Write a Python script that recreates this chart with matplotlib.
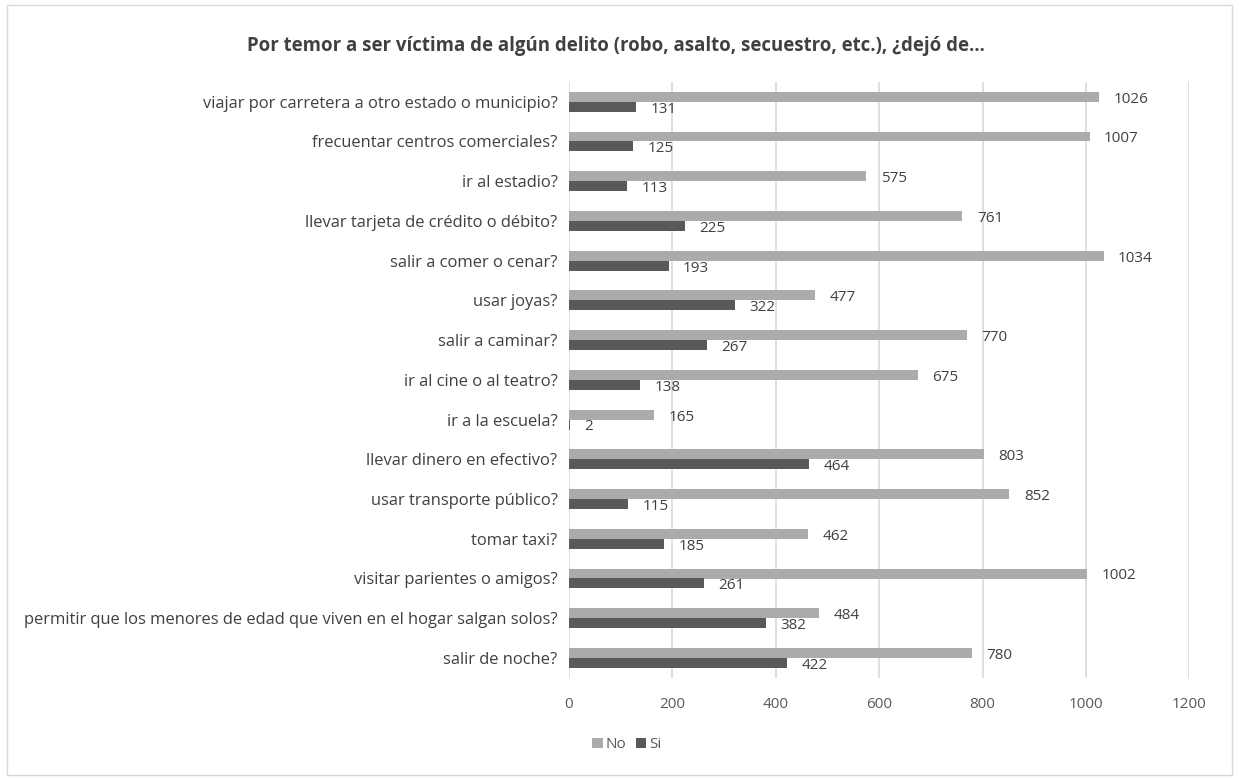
import numpy as np
import matplotlib.pyplot as plt

plt.rcParams['font.family'] = ['Open Sans', 'DejaVu Sans']

# Categories, top to bottom as in the reference
categorias = [
    "viajar por carretera a otro estado o municipio?",
    "frecuentar centros comerciales?",
    "ir al estadio?",
    "llevar tarjeta de crédito o débito?",
    "salir a comer o cenar?",
    "usar joyas?",
    "salir a caminar?",
    "ir al cine o al teatro?",
    "ir a la escuela?",
    "llevar dinero en efectivo?",
    "usar transporte público?",
    "tomar taxi?",
    "visitar parientes o amigos?",
    "permitir que los menores de edad que viven en el hogar salgan solos?",
    "salir de noche?",
]
no_vals = [1026, 1007, 575, 761, 1034, 477, 770, 675, 165, 803, 852, 462, 1002, 484, 780]
si_vals = [131, 125, 113, 225, 193, 322, 267, 138, 2, 464, 115, 185, 261, 382, 422]

c_no = "#ABABAB"
c_si = "#595959"

fig = plt.figure(figsize=(12.39, 7.80), dpi=100)
ax = fig.add_axes([0.459, 0.131, 0.501, 0.764])

y = np.arange(len(categorias))
h = 0.25
b1 = ax.barh(y - h / 2, no_vals, height=h, color=c_no, label="No")
b2 = ax.barh(y + h / 2, si_vals, height=h, color=c_si, label="Si")

for bars, vals in [(b1, no_vals), (b2, si_vals)]:
    for bar, v in zip(bars, vals):
        ax.text(v + 28, bar.get_y() + bar.get_height() / 2 + 0.06, str(v),
                va="center", ha="left", fontsize=11, color="#404040")

ax.set_ylim(len(categorias) - 0.5, -0.5)
ax.set_xlim(0, 1200)
ax.set_xticks(range(0, 1201, 200))
ax.set_yticks(y)
ax.set_yticklabels(categorias, fontsize=11.9, color="#404040")
ax.tick_params(axis="x", labelsize=11, labelcolor="#595959", length=0, pad=14)
ax.tick_params(axis="y", length=0, pad=8)
ax.grid(axis="x", color="#D9D9D9", linewidth=1.2)
ax.set_axisbelow(True)
for s in ax.spines.values():
    s.set_visible(False)

fig.text(0.497, 0.941, "Por temor a ser víctima de algún delito (robo, asalto, secuestro, etc.), ¿dejó de…",
         ha="center", va="center", fontsize=13.4, fontweight="bold", color="#404040")

fig.legend(handles=[b1, b2], labels=["No", "Si"], loc="center", bbox_to_anchor=(0.506, 0.045),
           ncol=2, frameon=False, fontsize=11, handlelength=0.7, handleheight=0.7,
           handletextpad=0.2, columnspacing=0.6, labelcolor="#595959")

fig.patches.append(plt.Rectangle((0.006, 0.006), 0.988, 0.988, transform=fig.transFigure,
                                 fill=False, edgecolor="#D9D9D9", linewidth=1))

fig.savefig("out.png", dpi=100)
